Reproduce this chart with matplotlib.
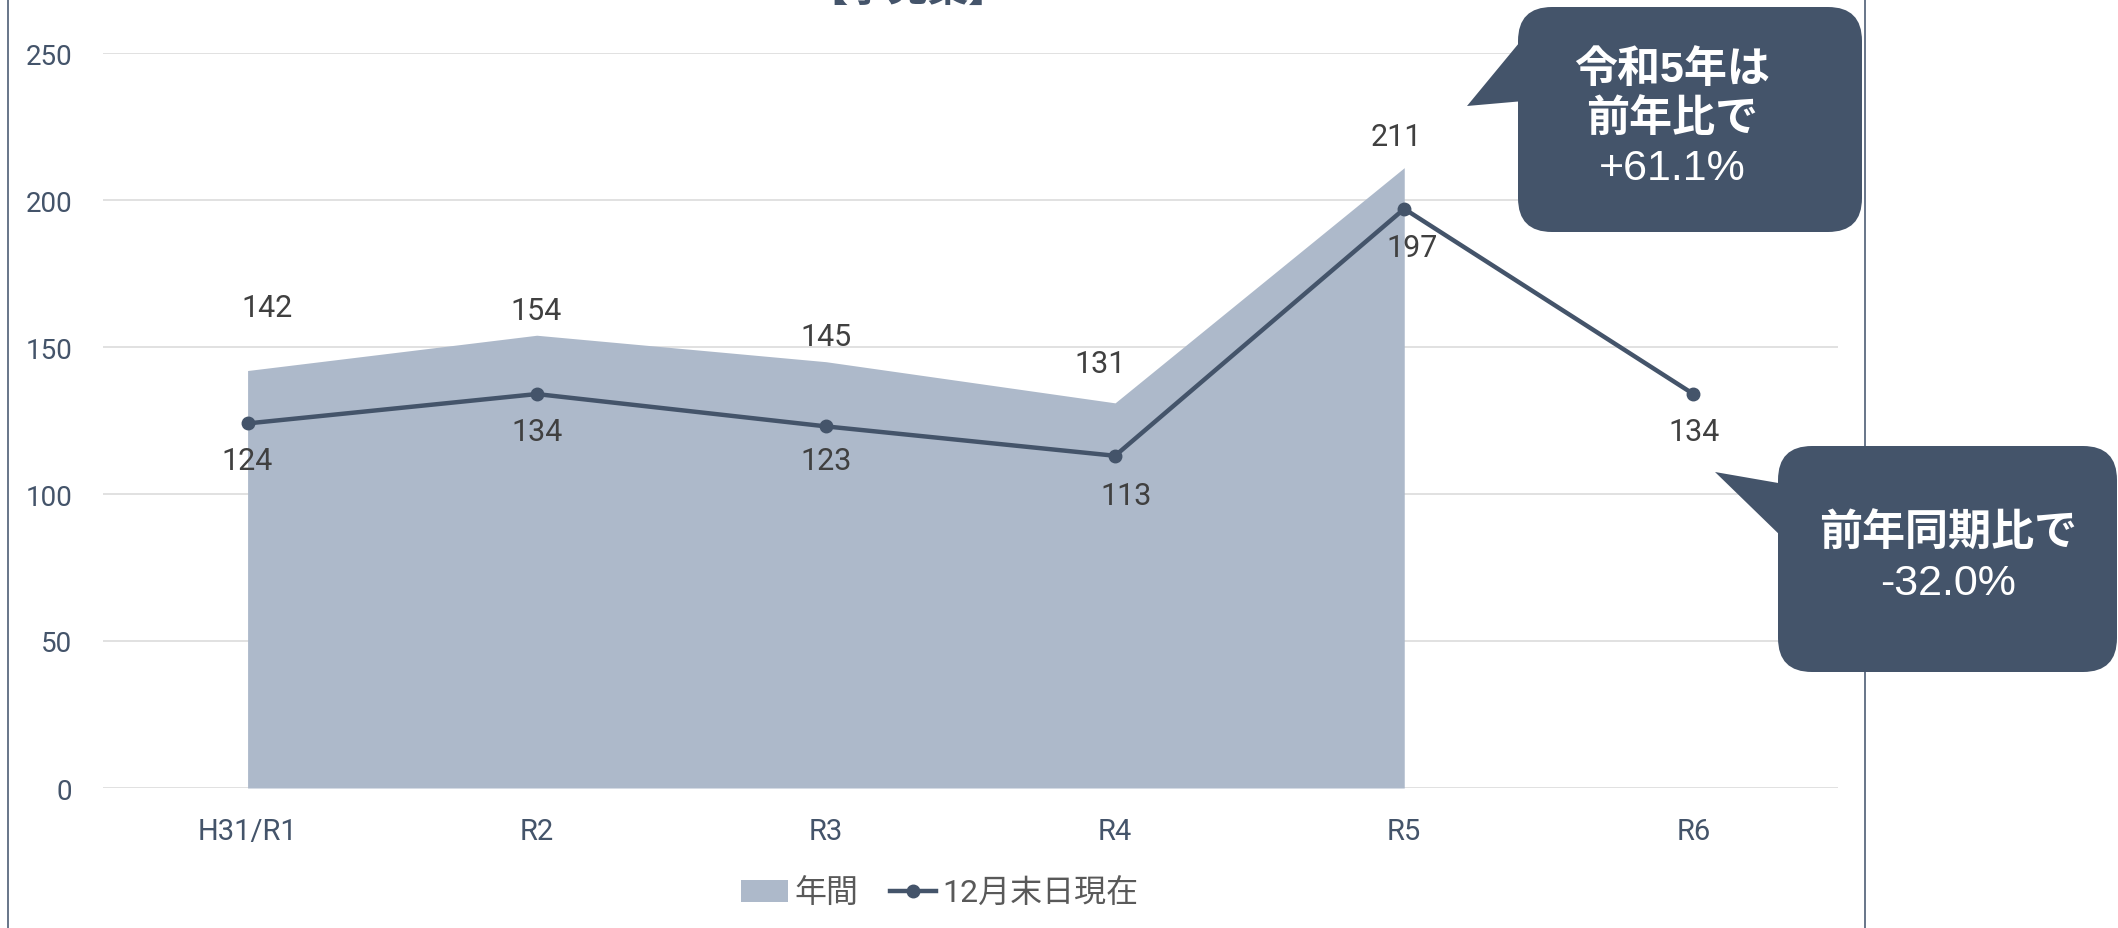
import numpy as np
import matplotlib
matplotlib.use('Agg')
import matplotlib.pyplot as plt
from matplotlib.patches import FancyBboxPatch, Polygon, Patch
from matplotlib.lines import Line2D

plt.rcParams['font.family'] = ['Roboto', 'Noto Sans CJK JP', 'DejaVu Sans']

# === data ===
years = ['H31/R1', 'R2', 'R3', 'R4', 'R5', 'R6']
annual = [142, 154, 145, 131, 211]          # 年間 (R6 not yet)
dec_end = [124, 134, 123, 113, 197, 134]    # 12月末日現在
title = '【予見案】'
note1 = ['令和5年は', '前年比で', '+61.1%']
note2 = ['前年同期比で', '-32.0%']

# label offsets in pixels (dx, dy)
annual_off = [(19, 63), (-1, 25), (0, 25), (-15, 39), (-8, 31)]
dec_off = [(-1, -37), (0, -37), (0, -34), (11, -40), (8, -39), (1, -37)]

slate = '#44546A'
fill_c = '#ADB9CA'
W, H = 2118, 929
px = 72 / 100  # pixel -> point at dpi 100

fig = plt.figure(figsize=(W / 100, H / 100), dpi=100, facecolor='white')
ax = fig.add_axes([103 / W, 1 - 789 / H, 1735 / W, 735 / H])

x = np.arange(len(years))
xa = x[:len(annual)]
ax.fill_between(xa, 0, annual, color=fill_c, linewidth=0, zorder=2)
ax.plot(x, dec_end, color=slate, lw=3.2, marker='o', ms=9, zorder=3)

for xi, v, (dx, dy) in zip(xa, annual, annual_off):
    ax.annotate(str(v), (xi, v), xytext=(dx * px, dy * px), textcoords='offset points',
                ha='center', va='center', fontsize=22, color='#404040', zorder=4)
for xi, v, (dx, dy) in zip(x, dec_end, dec_off):
    ax.annotate(str(v), (xi, v), xytext=(dx * px, dy * px), textcoords='offset points',
                ha='center', va='center', fontsize=22, color='#404040', zorder=4)

ax.set_xlim(-0.5, len(years) - 0.5)
ax.set_ylim(0, 250)
ax.set_yticks(np.arange(0, 251, 50))
ax.set_xticks(x)
ax.set_xticklabels(years)
ax.tick_params(axis='y', length=0, pad=22, labelsize=20, labelcolor=slate)
ax.tick_params(axis='x', length=0, pad=21, labelsize=21, labelcolor=slate)
ax.grid(axis='y', color='#D9D9D9', lw=1.1, zorder=0)
ax.set_axisbelow(True)
for s in ax.spines.values():
    s.set_visible(False)

# chart frame (left/right edges)
for fx in (8, 1865):
    fig.add_artist(Line2D([fx / W, fx / W], [0, 1], color='#4E5E76', lw=1.2, zorder=1))

fig.text(908 / W, 1 - 1 / H, title, ha='center', va='baseline', fontsize=29,
         fontweight='bold', color=slate, family=['Noto Sans CJK JP'])

# legend
handles = [Patch(facecolor=fill_c, edgecolor='none'),
           Line2D([], [], color=slate, lw=3.2, marker='o', ms=9)]
fig.legend(handles, ['年間', '12月末日現在'], loc='center',
           bbox_to_anchor=(940 / W, 1 - 894 / H), ncol=2, frameon=False,
           fontsize=23, handlelength=1.45, handletextpad=0.2, columnspacing=1.0,
           labelcolor='#595959')

# callouts, drawn in pixel space on an overlay
ov = fig.add_axes([0, 0, 1, 1])
ov.set_xlim(0, W)
ov.set_ylim(H, 0)
ov.axis('off')
ov.set_zorder(5)
ov.patch.set_alpha(0)

ov.add_patch(FancyBboxPatch((1518, 8), 344, 225, boxstyle='round,pad=0,rounding_size=34',
                            fc=slate, ec='none'))
ov.add_patch(Polygon([(1524, 38), (1467, 107), (1524, 102)], closed=True, fc=slate, ec='none'))
ov.add_patch(FancyBboxPatch((1778, 447), 339, 226, boxstyle='round,pad=0,rounding_size=34',
                            fc=slate, ec='none'))
ov.add_patch(Polygon([(1784, 485), (1715, 473), (1784, 540)], closed=True, fc=slate, ec='none'))

cjk = ['Liberation Sans', 'Noto Sans CJK JP']
for (t, yy, w) in zip(note1, (71, 119, 169), ('bold', 'bold', 'normal')):
    ov.text(1672, yy, t, ha='center', va='center', fontsize=31, color='white',
            fontweight=w, family=cjk)
for (t, yy, w) in zip(note2, (534, 584), ('bold', 'normal')):
    ov.text(1948, yy, t, ha='center', va='center', fontsize=31, color='white',
            fontweight=w, family=cjk)

fig.savefig('out.png', dpi=100, facecolor='white')
